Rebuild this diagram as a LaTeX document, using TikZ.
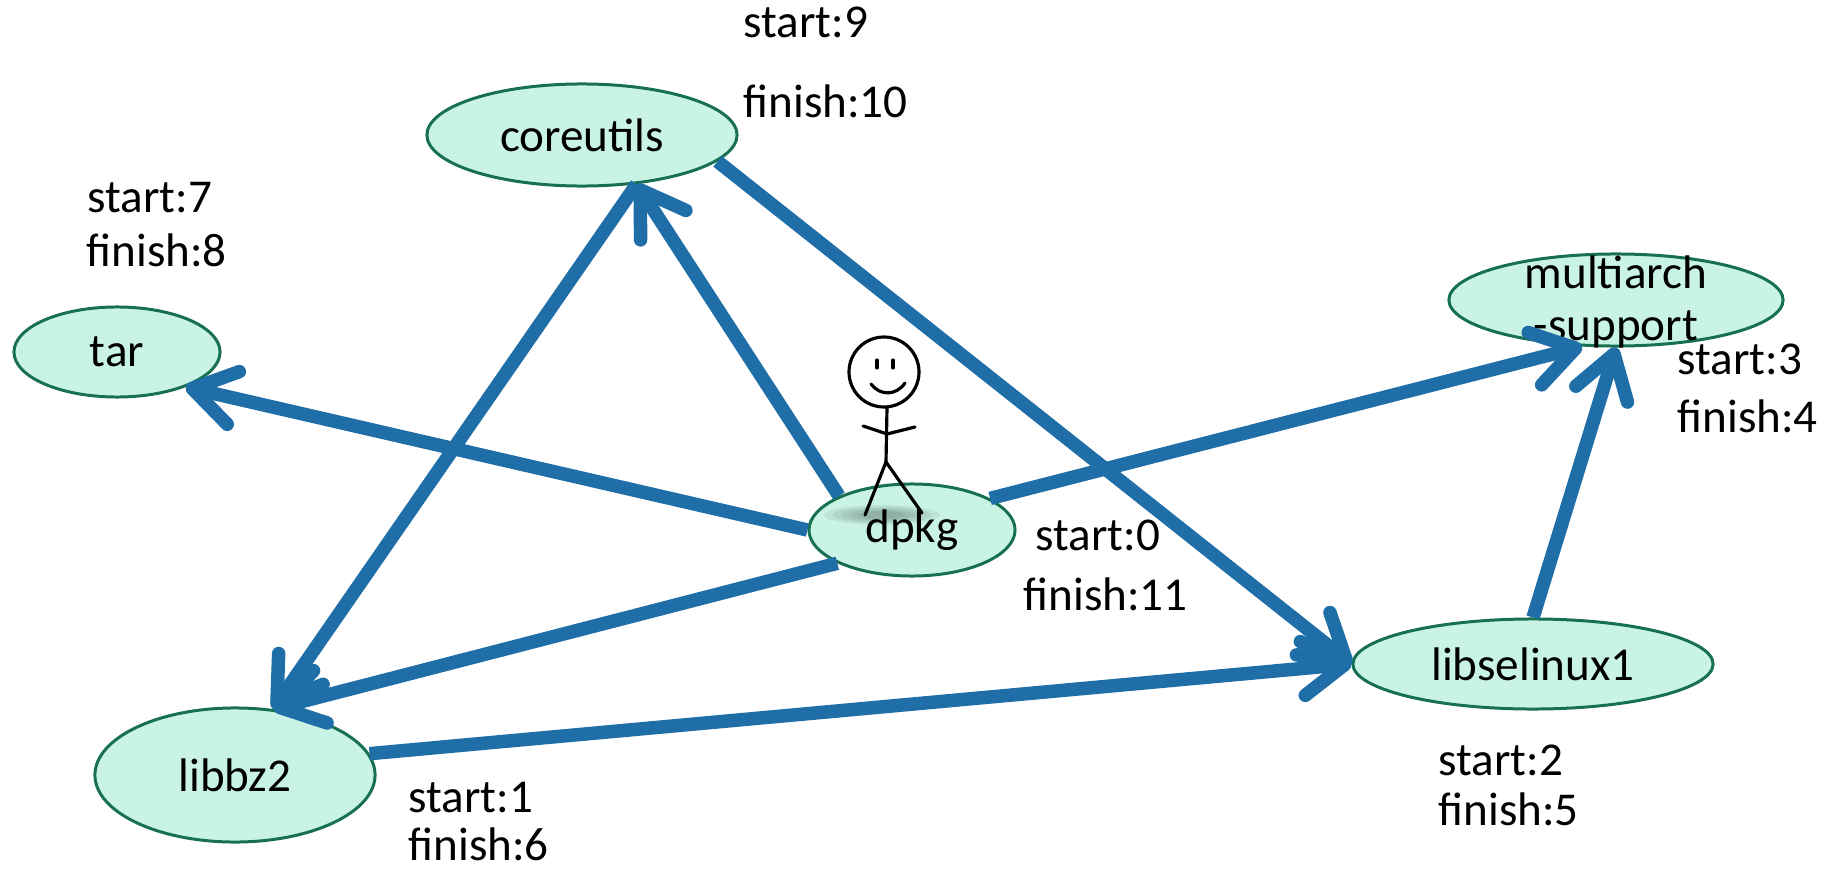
\documentclass[tikz,border=0pt]{standalone}
\usepackage{fontspec}
\setmainfont{Carlito}
\usetikzlibrary{arrows.meta,shapes.geometric}
\definecolor{pkgFill}{HTML}{C8F3E5}
\definecolor{pkgLine}{HTML}{17704F}
\definecolor{depBlue}{HTML}{1F6EA8}
\tikzset{
 dfs/.style={x=.01cm,y=-.01cm,font=\fontsize{13.4}{15}\selectfont},
 pkg/.style={ellipse,draw=pkgLine,fill=pkgFill,line width=.85pt,inner sep=0pt},
 dep/.style={draw=depBlue,line width=1.35mm,-{Straight Barb[length=4.2mm,width=5.4mm,round]}},
 stamp/.style={anchor=base west,inner sep=0pt},
 stick/.style={draw=black,line width=.9pt,line cap=round,line join=round}
}
% discovery / finishing times of one package
\newcommand{\dfsStamp}[5]{%
 \node[stamp] (#1Start) at #2 {start:#4};
 \node[stamp] (#1Finish) at #3 {finish:#5};}

\begin{document}
\begin{tikzpicture}[dfs]
 \useasboundingbox (0,0) rectangle (1830,870);
 \node[pkg,minimum width=3.1cm,minimum height=1.02cm] (coreutils) at (582,135) {coreutils};
 \node[pkg,minimum width=2.06cm,minimum height=.9cm] (tar) at (117,352) {tar};
 \node[pkg,minimum width=3.34cm,minimum height=.92cm,
   label={[align=center,yshift=-.2mm]center:{multiarch\\-support}}] (multiarch) at (1616,300) {};
 \node[pkg,minimum width=2.06cm,minimum height=.92cm] (dpkg) at (912,530) {dpkg};
 \node[pkg,minimum width=3.6cm,minimum height=.9cm] (libselinux1) at (1533,664) {libselinux1};
 \node[pkg,minimum width=2.8cm,minimum height=1.34cm] (libbz2) at (235,775) {libbz2};
 % soft shadow under the walker
 \foreach \r in {1,.85,.7,.55,.4}
   \fill[black,opacity=.06] (882,515) ellipse[x radius=58*\r,y radius=10*\r];
 % dependency edges
 \draw[dep] (dpkg.155) -- (coreutils.-42);
 \draw[dep] (coreutils.-42) -- (libbz2.60);
 \draw[dep] (dpkg.204) -- (libbz2.60);
 \draw[dep] (dpkg.180) -- (tar.-27);
 \draw[dep] (dpkg.22) -- (multiarch.234);
 \draw[dep] (libselinux1.north) -- (multiarch.south);
 \draw[dep] (coreutils.-11) -- (libselinux1.west);
 \draw[dep] (libbz2.9) -- (libselinux1.west);
 % stick man standing on dpkg
 \draw[stick] (884,372) circle[radius=35];
 \draw[stick] (877,360) -- (877,368) (893,360) -- (893,368);
 \draw[stick] (871,384) .. controls (880,396) and (896,396) .. (905,383);
 \draw[stick] (887,408) -- (886,462);
 \draw[stick] (863,426) -- (887,434) -- (915,427);
 \draw[stick] (865,515) -- (886,462) -- (922,513);
 \dfsStamp{coreutils}{(743,38)}{(743,118)}{9}{10}
 \dfsStamp{tar}{(87,213)}{(86,266)}{7}{8}
 \dfsStamp{multiarch}{(1677,374)}{(1677,432)}{3}{4}
 \dfsStamp{dpkg}{(1035,550)}{(1023,610)}{0}{11}
 \dfsStamp{libselinux1}{(1438,775)}{(1438,825)}{2}{5}
 \dfsStamp{libbz2}{(408,812)}{(408,860)}{1}{6}
\end{tikzpicture}
\end{document}
